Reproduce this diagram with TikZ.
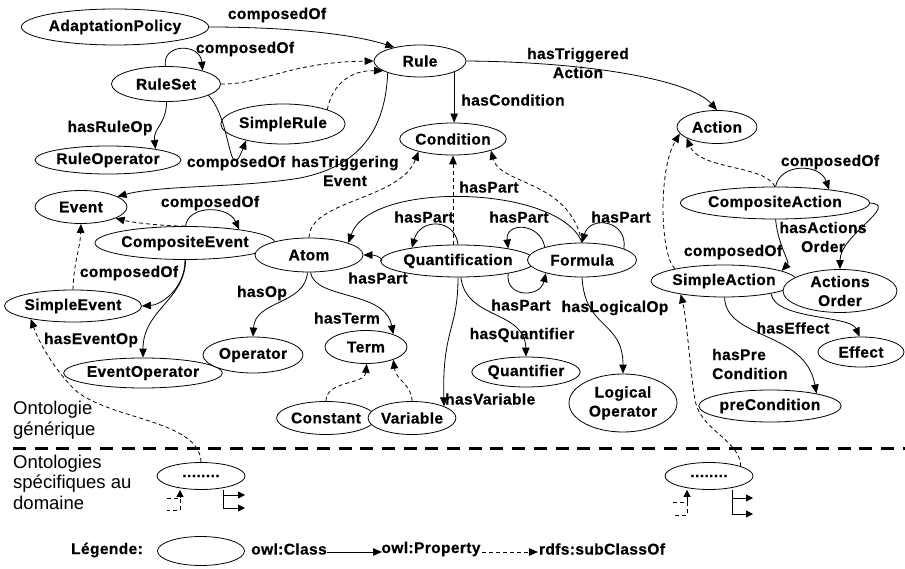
\documentclass[tikz,border=0pt]{standalone}
\usepackage{fontspec}
\setmainfont{Liberation Sans}
\newfontfamily\lblfamily[LetterSpace=2.5,BoldFeatures={FakeBold=0.6}]{Liberation Sans}
\newcommand\lblfnt{\lblfamily\bfseries\fontsize{15.5}{19}\selectfont}
\newcommand\sidefnt{\fontsize{18.5}{20.5}\selectfont}
\usetikzlibrary{shapes.geometric,arrows.meta}

\begin{document}
\begin{tikzpicture}[x=1pt,y=-1pt,
  every node/.style={inner sep=0pt},
  cls/.style={ellipse,draw,line width=0.8pt,fill=white,font=\lblfnt,align=center},
  lab/.style={font=\lblfnt,align=center},
  prop/.style={line width=0.8pt,-{Triangle[length=9pt,width=7.5pt]}},
  sub/.style={prop,dash pattern=on 4pt off 3pt},
  subline/.style={line width=0.8pt,dash pattern=on 4pt off 3pt},
  smalltip/.style={-{Triangle[length=7pt,width=7pt]}},
  side/.style={font=\sidefnt,align=left,anchor=west},
  sep/.style={line width=3pt,dash pattern=on 13pt off 8.7pt}
]
\useasboundingbox (0,0) rectangle (905,569);
\fill[white] (0,0) rectangle (905,569);

% classes
\node[cls,minimum width=156pt,minimum height=36pt] (ap)   at (115,27)  {AdaptationPolicy};
\node[cls,minimum width=109pt,minimum height=35pt] (rs)   at (166,84)  {RuleSet};
\node[cls,minimum width=123pt,minimum height=28pt] (rop)  at (108,160) {RuleOperator};
\node[cls,minimum width=108pt,minimum height=40pt] (sr)   at (283,124) {SimpleRule};
\node[cls,minimum width=92pt, minimum height=32pt] (rule) at (420,61)  {Rule};
\node[cls,minimum width=102pt,minimum height=32pt] (cond) at (453,139) {Condition};
\node[cls,minimum width=80pt, minimum height=33pt] (act)  at (717,127) {Action};
\node[cls,minimum width=134pt,minimum height=32pt] (ca)   at (775,203) {CompositeAction};
\node[cls,minimum width=106pt,minimum height=32pt] (sa)   at (724,281) {SimpleAction};
\node[cls,minimum width=114pt,minimum height=42pt] (ao)   at (840,291) {Actions\\Order};
\node[cls,minimum width=86pt, minimum height=30pt] (eff)  at (861,352) {Effect};
\node[cls,minimum width=119pt,minimum height=32pt] (pre)  at (770,406) {preCondition};
\node[cls,minimum width=92pt, minimum height=33pt] (ev)   at (81,207)  {Event};
\node[cls,minimum width=140pt,minimum height=33pt] (ce)   at (185,243) {CompositeEvent};
\node[cls,minimum width=110pt,minimum height=32pt] (se)   at (73,306)  {SimpleEvent};
\node[cls,minimum width=117pt,minimum height=30pt] (eo)   at (143,373) {EventOperator};
\node[cls,minimum width=100pt,minimum height=36pt] (op)   at (253,355) {Operator};
\node[cls,minimum width=108pt,minimum height=34pt] (atom) at (309,255) {Atom};
\node[cls,minimum width=123pt,minimum height=32pt] (qf)   at (458,261) {Quantification};
\node[cls,minimum width=109pt,minimum height=34pt] (fm)   at (582,260) {Formula};
\node[cls,minimum width=82pt, minimum height=33pt] (term) at (366,347) {Term};
\node[cls,minimum width=108pt,minimum height=30pt] (qr)   at (526,372) {Quantifier};
\node[cls,minimum width=82pt, minimum height=33pt] (cst)  at (326,418) {Constant};
\node[cls,minimum width=81pt, minimum height=33pt] (var)  at (412,418) {Variable};
\node[cls,minimum width=108pt,minimum height=58pt] (lop)  at (623,403) {Logical\\Operator};
\node[cls,minimum width=88pt, minimum height=27pt] (d1)   at (201,476) {........};
\node[cls,minimum width=88pt, minimum height=27pt] (d2)   at (709,476) {........};

% properties and sub-classes: rules
\draw[prop] (ap.east) .. controls (280,27) and (350,33) .. (rule.152);
\draw[prop] (rs.92) .. controls (162,43) and (200,43) .. (rs.20);
\draw[sub]  (rs.east) .. controls (260,85) and (290,62) .. (rule.west);
\draw[sub]  (sr.18) .. controls (332,85) and (350,70) .. (rule.195);
\draw[prop] (rs.-15) .. controls (232,120) and (228,188) .. (sr.204);
\draw[prop] (rs.-88) .. controls (166,125) and (153,128) .. (rop.13);
\draw[prop] (rule.200) .. controls (385,140) and (350,168) .. (300,178)
            .. controls (240,188) and (160,185) .. (ev.16);
\draw[prop] (rule.-18) -- (cond.north -| rule.-18);
\draw[prop] (rule.east) .. controls (590,62) and (690,80) .. (act.north);

% conditions
\draw[sub]  (atom.north) .. controls (310,200) and (400,200) .. (cond.200);
\draw[sub]  (qf.north -| cond.south) -- (cond.south);
\draw[sub]  (fm.north) .. controls (570,180) and (500,185) .. (cond.-17);
\draw[prop] (qf.west) .. controls (385,261) and (378,255) .. (atom.east);
\draw[prop] (fm.north) .. controls (560,185) and (370,180) .. (atom.17);
\draw[prop] (qf.north) .. controls (455,218) and (420,218) .. (qf.164);
\draw[prop] (fm.161) .. controls (540,222) and (505,222) .. (qf.14);
\draw[prop] (qf.-14) .. controls (505,298) and (540,298) .. (fm.200);
\draw[prop] (fm.15) .. controls (628,220) and (590,215) .. (fm.north);
\draw[prop] (atom.-95) .. controls (305,305) and (255,300) .. (op.north);
\draw[prop] (atom.-85) .. controls (315,300) and (385,290) .. (term.25);
\draw[sub]  (cst.north) .. controls (326,380) and (365,385) .. (term.-88);
\draw[sub]  (var.north) .. controls (412,385) and (396,380) .. (term.-25);
\draw[prop] (qf.-90) .. controls (458,330) and (442,330) .. (var.20);
\draw[prop] (qf.-80) .. controls (466,320) and (525,310) .. (qr.north);
\draw[prop] (fm.south) .. controls (585,330) and (623,320) .. (lop.north);

% events
\draw[prop] (ce.88) .. controls (188,205) and (228,205) .. (ce.14);
\draw[sub]  (ce.north) .. controls (160,226) and (130,222) .. (ev.-18);
\draw[sub]  (se.north) .. controls (74,260) and (80,250) .. (ev.south);
\draw[prop] (ce.-90) .. controls (185,290) and (160,305) .. (se.east);
\draw[prop] (ce.-88) .. controls (185,300) and (143,310) .. (eo.north);

% actions
\draw[sub]  (ca.north) .. controls (765,165) and (700,170) .. (act.200);
\draw[prop] (ca.88) .. controls (780,163) and (820,163) .. (ca.14);
\draw[sub]  (sa.166) .. controls (660,255) and (658,170) .. (act.190);
\draw[prop] (ca.-88) .. controls (778,245) and (790,262) .. (sa.10);
\draw[prop] (ca.east) .. controls (900,205) and (840,235) .. (ao.north);
\draw[prop] (sa.-15) .. controls (775,320) and (850,315) .. (eff.95);
\draw[prop] (sa.-88) .. controls (726,340) and (805,330) .. (pre.15);

% links from the domain ontologies
\draw[sub] (d1.north) .. controls (200,420) and (110,420) .. (75,390)
           .. controls (55,370) and (40,345) .. (se.197);
\draw[sub] (d2.17) .. controls (740,440) and (700,430) .. (695,400)
           .. controls (690,370) and (687,320) .. (sa.197);

% property labels
\node[lab] (l1)  at (277,15)  {composedOf};
\node[lab] (l2)  at (245,49)  {composedOf};
\node[lab] (l3)  at (110,128) {hasRuleOp};
\node[lab] (l4)  at (236,163) {composedOf};
\node[lab] (l5)  at (345,171) {hasTriggering\\Event};
\node[lab] (l6)  at (513,100) {hasCondition};
\node[lab] (l7)  at (578,63)  {hasTriggered\\Action};
\node[lab] (l8)  at (210,203) {composedOf};
\node[lab] (l9)  at (129,273) {composedOf};
\node[lab] (l10) at (91,340)  {hasEventOp};
\node[lab] (l11) at (262,293) {hasOp};
\node[lab] (l12) at (347,318) {hasTerm};
\node[lab] (l13) at (489,187) {hasPart};
\node[lab] (l14) at (424,217) {hasPart};
\node[lab] (l15) at (519,217) {hasPart};
\node[lab] (l16) at (621,217) {hasPart};
\node[lab] (l17) at (378,278) {hasPart};
\node[lab] (l18) at (521,305) {hasPart};
\node[lab] (l19) at (522,335) {hasQuantifier};
\node[lab,anchor=west] (l20) at (445,399) {hasVariable};
\node[lab] (l21) at (615,308) {hasLogicalOp};
\node[lab] (l22) at (830,162) {composedOf};
\node[lab] (l23) at (823,237) {hasActions\\Order};
\node[lab] (l24) at (733,252) {composedOf};
\node[lab] (l25) at (793,328) {hasEffect};
\node[lab,align=left,anchor=west] (l26) at (712,364) {hasPre\\Condition};

% separation between the two levels
\coordinate (sepL) at (13,448);
\coordinate (sepR) at (905,448);
\draw[sep] (sepL) -- (sepR);
\node[side] (gen) at (13,420) {Ontologie\\générique};
\node[side] (spe) at (13,482) {Ontologies\\spécifiques au\\domaine};

% glyphs under the domain classes
\coordinate (a1) at (180,498);
\coordinate (a2) at (223,495);
\coordinate (a3) at (223,508);
\draw[subline] (167,498) -- (a1) -- (180,510) -- (167,510);
\draw[line width=0.8pt,smalltip] (a1) -- (d1.south -| a1);
\draw[line width=0.8pt] (d1.south -| a2) -- (a3);
\draw[line width=0.8pt,smalltip] (a2) -- +(22,0);
\draw[line width=0.8pt,smalltip] (a3) -- +(22,0);

\coordinate (b1) at (687,502);
\coordinate (b2) at (732,498);
\coordinate (b3) at (732,514);
\draw[subline] (673,502) -- (b1) -- (687,515) -- (673,515);
\draw[line width=0.8pt,smalltip] (b1) -- (d2.south -| b1);
\draw[line width=0.8pt] (d2.south -| b2) -- (b3);
\draw[line width=0.8pt,smalltip] (b2) -- +(21,0);
\draw[line width=0.8pt,smalltip] (b3) -- +(21,0);

% legend
\node[lab] (lg) at (107,550) {Légende:};
\node[cls,minimum width=87pt,minimum height=29pt] (lgc) at (201,551) {};
\node[lab] (lgcl) at (289,549) {owl:Class};
\coordinate (p1) at (327,552);
\coordinate (p2) at (382,552);
\draw[prop] (p1) -- (p2);
\node[lab] (lgp) at (431,549) {owl:Property};
\coordinate (q1) at (482,552);
\coordinate (q2) at (538,552);
\draw[sub] (q1) -- (q2);
\node[lab] (lgs) at (602,549) {rdfs:subClassOf};
\end{tikzpicture}
\end{document}
